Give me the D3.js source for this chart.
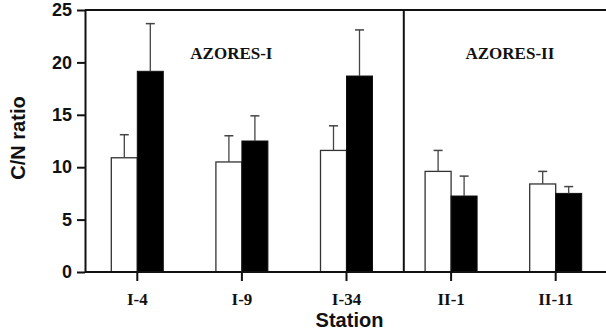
<!DOCTYPE html>
<html>
<head>
<meta charset="utf-8">
<script src="https://cdn.jsdelivr.net/npm/d3@7"></script>
<style>
  body { margin: 0; background: #fff; }
</style>
</head>
<body>
<div id="chart"></div>
<script>
const stations = ['I-4', 'I-9', 'I-34', 'II-1', 'II-11'];
const seriesA = [10.9, 10.5, 11.6, 9.6, 8.4];     // white bars
const errA = [2.2, 2.5, 2.35, 2.0, 1.2];
const seriesB = [19.15, 12.5, 18.7, 7.25, 7.5];  // black bars
const errB = [4.55, 2.4, 4.4, 1.9, 0.65];
const yTicks = [0, 5, 10, 15, 20, 25];
const regions = ['AZORES-I', 'AZORES-II'];

const width = 606;
const height = 333;
const margin = { top: 10, right: -2, bottom: 61, left: 85 };
const sans = 'Arial, "Liberation Sans", sans-serif';
const serif = '"Times New Roman", "Liberation Serif", serif';

const svg = d3.select('#chart').append('svg')
  .attr('width', width)
  .attr('height', height);

const x = d3.scaleBand()
  .domain(stations)
  .range([margin.left, width - margin.right]);

const y = d3.scaleLinear()
  .domain([0, 25])
  .range([height - margin.bottom, margin.top]);

const barW = 26;

// top frame line and region divider
svg.append('line')
  .attr('x1', margin.left).attr('x2', width)
  .attr('y1', y(25)).attr('y2', y(25))
  .attr('stroke', '#111').attr('stroke-width', 2);

const divX = (x('I-34') + x.bandwidth() + x('II-1')) / 2 + 5;
svg.append('line')
  .attr('x1', divX).attr('x2', divX)
  .attr('y1', y(25)).attr('y2', y(0))
  .attr('stroke', '#111').attr('stroke-width', 2);

// bars
const data = stations.map((s, i) => ({ s, a: seriesA[i], ea: errA[i], b: seriesB[i], eb: errB[i] }));

const g = svg.append('g');
const groups = g.selectAll('g.station').data(data).join('g').attr('class', 'station');

function center(d) { return x(d.s) + x.bandwidth() / 2; }

// error bars (drawn first, bars cover the lower part)
const errs = [];
data.forEach(d => {
  errs.push({ cx: center(d) - barW / 2, v: d.a, e: d.ea });
  errs.push({ cx: center(d) + barW / 2, v: d.b, e: d.eb });
});
const eg = g.selectAll('g.err').data(errs).join('g').attr('class', 'err');
eg.append('line')
  .attr('x1', d => d.cx).attr('x2', d => d.cx)
  .attr('y1', d => y(d.v)).attr('y2', d => y(d.v + d.e))
  .attr('stroke', '#444').attr('stroke-width', 1.3);
eg.append('line')
  .attr('x1', d => d.cx - 4.5).attr('x2', d => d.cx + 4.5)
  .attr('y1', d => y(d.v + d.e)).attr('y2', d => y(d.v + d.e))
  .attr('stroke', '#444').attr('stroke-width', 1.5);

groups.append('rect')
  .attr('x', d => center(d) - barW)
  .attr('y', d => y(d.a))
  .attr('width', barW)
  .attr('height', d => y(0) - y(d.a))
  .attr('fill', '#fff')
  .attr('stroke', '#333')
  .attr('stroke-width', 1.3);

groups.append('rect')
  .attr('x', d => center(d))
  .attr('y', d => y(d.b))
  .attr('width', barW)
  .attr('height', d => y(0) - y(d.b))
  .attr('fill', '#000')
  .attr('stroke', '#111')
  .attr('stroke-width', 1);

// axes
const yAxis = svg.append('g')
  .attr('transform', `translate(${margin.left},0)`)
  .call(d3.axisLeft(y).tickValues(yTicks).tickSize(8).tickPadding(5).tickSizeOuter(0));
yAxis.selectAll('path, line').attr('stroke', '#111').attr('stroke-width', 2);
yAxis.selectAll('text')
  .style('font-family', sans).style('font-weight', 'bold').style('font-size', '18px').attr('fill', '#111');

const xAxis = svg.append('g')
  .attr('transform', `translate(0,${y(0)})`)
  .call(d3.axisBottom(x).tickSize(9).tickPadding(12).tickSizeOuter(0));
xAxis.select('.domain').attr('d', `M${margin.left},0H${width}`);
xAxis.selectAll('path, line').attr('stroke', '#111').attr('stroke-width', 2);
xAxis.selectAll('text')
  .style('font-family', serif).style('font-weight', 'bold').style('font-size', '17px').attr('fill', '#111');

// region labels
const regionX = [(margin.left + divX) / 2 - 13, (divX + width) / 2 + 5];
svg.selectAll('text.region').data(regions).join('text')
  .attr('class', 'region')
  .attr('x', (d, i) => regionX[i])
  .attr('y', 59)
  .attr('text-anchor', 'middle')
  .style('font-family', serif)
  .style('font-weight', 'bold')
  .style('font-size', '17px')
  .attr('fill', '#111')
  .text(d => d);

// axis titles
svg.append('text')
  .attr('transform', `translate(25,${(y(0) + y(25)) / 2 - 3}) rotate(-90)`)
  .attr('text-anchor', 'middle')
  .style('font-family', sans)
  .style('font-weight', 'bold')
  .style('font-size', '20px')
  .attr('fill', '#111')
  .text('C/N ratio');

svg.append('text')
  .attr('x', x('I-34') + x.bandwidth() / 2 + 3)
  .attr('y', 327)
  .attr('text-anchor', 'middle')
  .style('font-family', sans)
  .style('font-weight', 'bold')
  .style('font-size', '20px')
  .attr('fill', '#111')
  .text('Station');
</script>
</body>
</html>
